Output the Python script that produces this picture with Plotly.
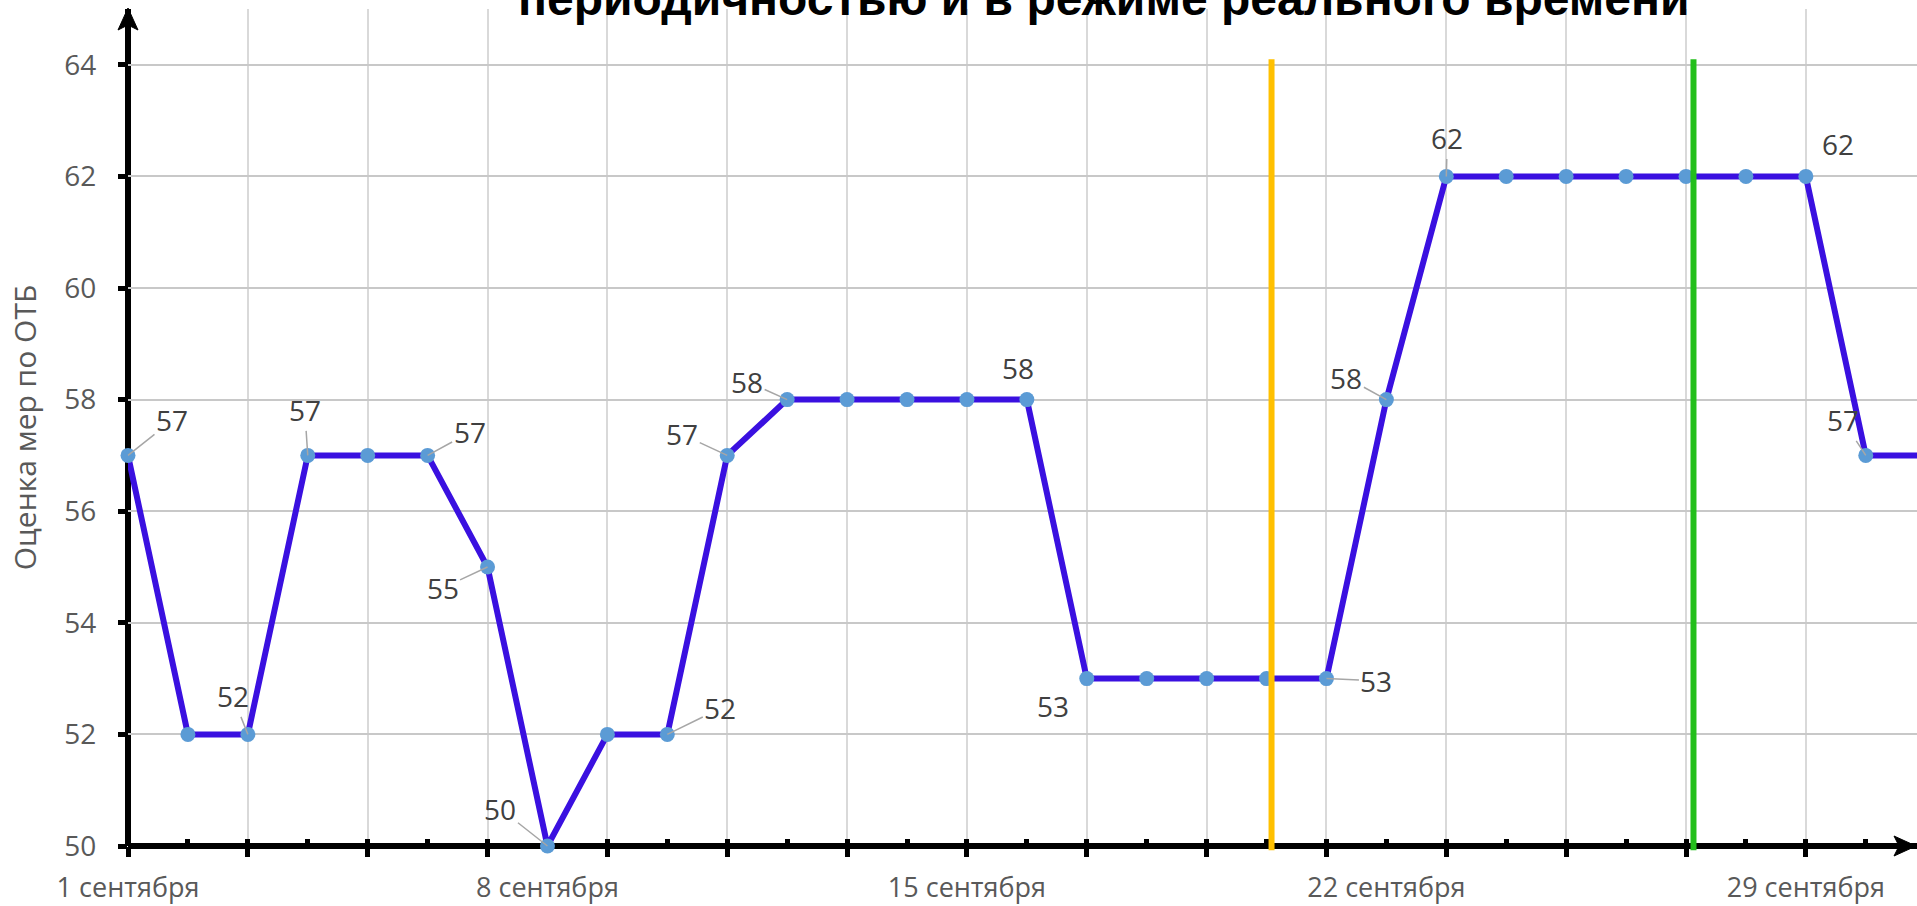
import plotly.graph_objects as go

# ---------------- data ----------------
dates = ["2023-09-01", "2023-09-02", "2023-09-03", "2023-09-04", "2023-09-05",
         "2023-09-06", "2023-09-07", "2023-09-08", "2023-09-09", "2023-09-10",
         "2023-09-11", "2023-09-12", "2023-09-13", "2023-09-14", "2023-09-15",
         "2023-09-16", "2023-09-17", "2023-09-18", "2023-09-19", "2023-09-20",
         "2023-09-21", "2023-09-22", "2023-09-23", "2023-09-24", "2023-09-25",
         "2023-09-26", "2023-09-27", "2023-09-28", "2023-09-29", "2023-09-30",
         "2023-10-01"]
values = [57, 52, 52, 57, 57, 57, 55, 50, 52, 52, 57, 58, 58, 58, 58, 58,
          53, 53, 53, 53, 53, 58, 62, 62, 62, 62, 62, 62, 62, 57, 57]

tick_dates = ["2023-09-01", "2023-09-08", "2023-09-15", "2023-09-22", "2023-09-29"]
tick_labels = ["1 сентября", "8 сентября", "15 сентября", "22 сентября", "29 сентября"]

event_dates = ["2023-09-20 02:00", "2023-09-27 03:00"]
event_colors = ["#FFC000", "#23BF1B"]

labelled_points = [0, 2, 3, 5, 6, 7, 9, 10, 11, 15, 16, 20, 21, 22, 28, 29]

title_text = "периодичностью и в режиме реального времени"
y_title = "Оценка мер по ОТБ"

# ---------------- style ----------------
label_offsets = {0: (44, -35, True), 2: (-15, -38, True), 3: (-3, -45, True),
                 5: (42, -23, True), 6: (-45, 21, True), 7: (-47, -37, True),
                 9: (53, -26, True), 10: (-45, -21, True), 11: (-40, -18, True),
                 15: (-9, -32, False), 16: (-34, 27, False), 20: (50, 2, True),
                 21: (-40, -22, True), 22: (1, -38, True), 28: (32, -32, False),
                 29: (-23, -35, True)}

x_range = ["2023-09-01", "2023-09-30 20:31"]
y_range = [50, 65]
DAY = 86400000
event_top = (64.1 - y_range[0]) / (y_range[1] - y_range[0])

fig = go.Figure()
fig.add_trace(go.Scatter(
    x=dates, y=values, mode="lines+markers",
    line=dict(color="#3A10E0", width=6),
    marker=dict(color="#5B9BD5", size=15),
    cliponaxis=False, hoverinfo="skip", showlegend=False))
# helper trace for label axis
fig.add_trace(go.Scatter(x=dates, y=values, xaxis="x2", mode="markers",
                         marker=dict(opacity=0), hoverinfo="skip", showlegend=False))

annotations = []
for i in labelled_points:
    ax, ay, show_line = label_offsets[i]
    annotations.append(dict(
        x=dates[i], y=values[i], xref="x", yref="y", text=str(values[i]),
        showarrow=True, ax=ax, ay=ay, arrowhead=0, arrowwidth=1.5,
        arrowcolor="#A6A6A6" if show_line else "rgba(0,0,0,0)", standoff=0,
        font=dict(family="Open Sans", size=28, color="#404040")))

annotations.append(dict(
    x=0.5453, y=0.9785, xref="paper", yref="paper", xanchor="center", yanchor="bottom",
    text="<b>" + title_text + "</b>", showarrow=False,
    font=dict(family="Liberation Sans", size=48, color="#000000")))

shapes = []
for d, c in zip(event_dates, event_colors):
    shapes.append(dict(type="line", xref="x", yref="paper", x0=d, x1=d, y0=-0.005, y1=event_top,
                       line=dict(color=c, width=6), layer="above"))
# axis lines
shapes.append(dict(type="line", xref="paper", yref="paper", x0=0, x1=0, y0=0, y1=1,
                   line=dict(color="black", width=6), layer="between"))
shapes.append(dict(type="line", xref="paper", yref="paper", x0=0, x1=1, y0=0, y1=0,
                   line=dict(color="black", width=6), layer="between"))
# arrow heads
shapes.append(dict(type="path", xref="paper", yref="paper", xsizemode="pixel", ysizemode="pixel",
                   xanchor=0, yanchor=1,
                   path="M 0 1 L 10 -21 L 0 -16 L -10 -21 Z",
                   fillcolor="black", line=dict(color="black", width=1), layer="above"))
shapes.append(dict(type="path", xref="paper", yref="paper", xsizemode="pixel", ysizemode="pixel",
                   xanchor=1, yanchor=0,
                   path="M -1 0 L -23 10 L -18 0 L -23 -10 Z",
                   fillcolor="black", line=dict(color="black", width=1), layer="above"))

fig.update_layout(
    width=1917, height=906,
    margin=dict(l=128, r=0, t=9, b=60, autoexpand=False),
    paper_bgcolor="white", plot_bgcolor="white",
    showlegend=False,
    annotations=annotations, shapes=shapes,
    xaxis=dict(type="date", range=x_range, tick0="2023-09-01", dtick=2 * DAY,
               automargin=False,
               ticks="outside", ticklen=10, tickwidth=5, tickcolor="black",
               showticklabels=False, showgrid=True, gridcolor="#D9D9D9", gridwidth=2,
               showline=False, zeroline=False, layer="below traces",
               minor=dict(tick0="2023-09-01", dtick=DAY, ticks="inside", ticklen=7,
                          tickwidth=5, tickcolor="black", showgrid=False)),
    xaxis2=dict(type="date", range=x_range, overlaying="x", anchor="y", side="bottom",
                automargin=False,
                tickvals=tick_dates, ticktext=tick_labels, ticks="outside", ticklen=18,
                tickcolor="rgba(0,0,0,0)", showgrid=False, showline=False, zeroline=False,
                tickfont=dict(family="Open Sans", size=27, color="#595959")),
    yaxis=dict(range=y_range, tick0=50, dtick=2, tickvals=[50, 52, 54, 56, 58, 60, 62, 64],
               automargin=False,
               ticks="outside", ticklen=9, tickwidth=5, tickcolor="black",
               ticklabelstandoff=16,
               showgrid=True, gridcolor="#C8C8C8", gridwidth=2, showline=False,
               zeroline=False, layer="below traces",
               tickfont=dict(family="Open Sans", size=28, color="#595959"),
               title=dict(text=y_title, standoff=18,
                          font=dict(family="Open Sans", size=30, color="#595959"))),
)

fig.write_html("out.html", config={"displayModeBar": False},
               post_script="document.body.style.margin='0';document.body.style.overflow='hidden';")
